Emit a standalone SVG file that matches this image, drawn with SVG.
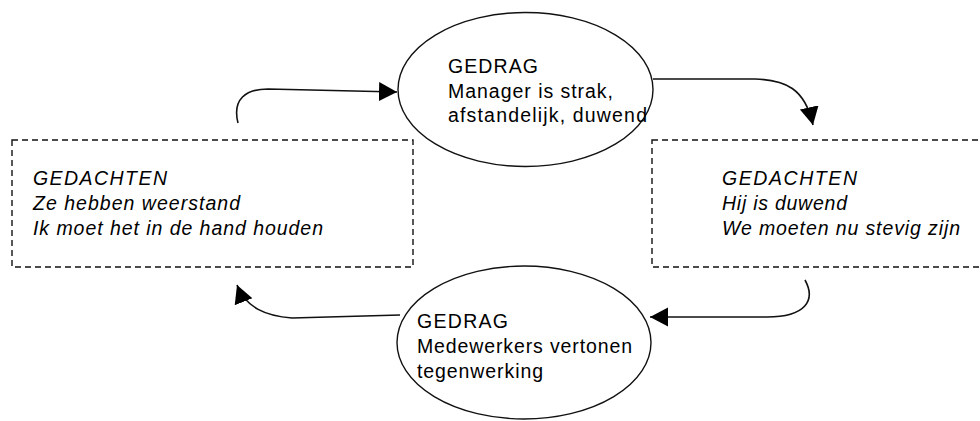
<svg xmlns="http://www.w3.org/2000/svg" width="980" height="421" viewBox="0 0 980 421">
<defs>
<style>
.ell{fill:#fff;stroke:#111;stroke-width:1.4}
.box{fill:none;stroke:#111;stroke-width:1.4;stroke-dasharray:6 4}
.t{font-family:"Liberation Sans",Arial,sans-serif;font-size:19.5px;fill:#000}
.i{font-style:italic}
.con{fill:none;stroke:#111;stroke-width:1.6}
</style>
<marker id="ah" markerUnits="userSpaceOnUse" markerWidth="20" markerHeight="20" refX="18" refY="9.5" orient="auto" viewBox="0 0 20 20">
<path d="M0,0 L18,9.5 L0,19 Z" fill="#000"/>
</marker>
</defs>
<rect width="980" height="421" fill="#fff"/>
<g id="connectors">
<path class="con" d="M238,123 C232,99 246,89 268,89 L397,92" marker-end="url(#ah)"/>
<path class="con" d="M653,79 L755,79 C785,80 805,88 813,125" marker-end="url(#ah)"/>
<path class="con" d="M805,280 C816,300 806,317 767,317 L650,317" marker-end="url(#ah)"/>
<path class="con" d="M400,315 L292,318 C266,316 246,308 237,285" marker-end="url(#ah)"/>
</g>
<g id="gedrag-manager">
<ellipse class="ell" cx="525.5" cy="89.5" rx="127.5" ry="77"/>
<text class="t"><tspan x="448" y="73" textLength="90" lengthAdjust="spacing">GEDRAG</tspan><tspan x="448" y="97.5" textLength="165" lengthAdjust="spacing">Manager is strak,</tspan><tspan x="448" y="122" textLength="199" lengthAdjust="spacing">afstandelijk, duwend</tspan></text>
</g>
<g id="gedachten-manager">
<rect class="box" x="12" y="140" width="401" height="127"/>
<text class="t i"><tspan x="33" y="185" textLength="134" lengthAdjust="spacing">GEDACHTEN</tspan><tspan x="33" y="210" textLength="207" lengthAdjust="spacing">Ze hebben weerstand</tspan><tspan x="33" y="235" textLength="290" lengthAdjust="spacing">Ik moet het in de hand houden</tspan></text>
</g>
<g id="gedachten-medewerkers">
<rect class="box" x="652" y="140" width="340" height="127"/>
<text class="t i"><tspan x="722" y="185" textLength="135" lengthAdjust="spacing">GEDACHTEN</tspan><tspan x="722" y="210" textLength="125" lengthAdjust="spacing">Hij is duwend</tspan><tspan x="722" y="235" textLength="238" lengthAdjust="spacing">We moeten nu stevig zijn</tspan></text>
</g>
<g id="gedrag-medewerkers">
<ellipse class="ell" cx="524" cy="342.5" rx="127" ry="76.5"/>
<text class="t"><tspan x="417" y="328" textLength="91" lengthAdjust="spacing">GEDRAG</tspan><tspan x="417" y="353" textLength="215" lengthAdjust="spacing">Medewerkers vertonen</tspan><tspan x="417" y="378" textLength="126" lengthAdjust="spacing">tegenwerking</tspan></text>
</g>
</svg>
